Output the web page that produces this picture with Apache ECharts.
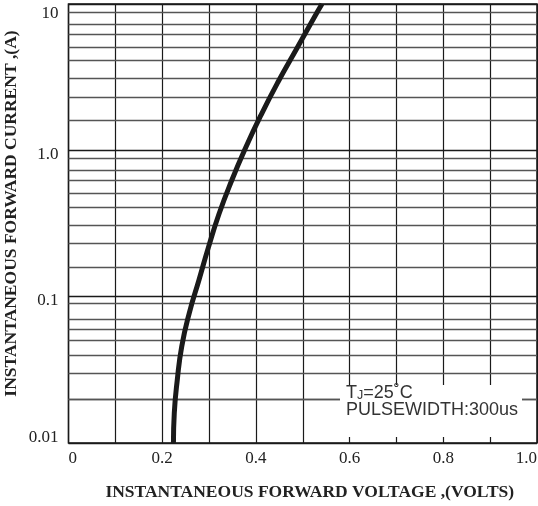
<!DOCTYPE html>
<html><head><meta charset="utf-8">
<script src="https://cdn.jsdelivr.net/npm/echarts@6/dist/echarts.min.js"></script>
<style>html,body{margin:0;padding:0;background:#fff}#c{width:538px;height:506px}</style>
</head><body><div id="c"></div>
<script>
// Data
const voltage = [0.224, 0.2258, 0.2322, 0.2416, 0.2578, 0.2785, 0.2988, 0.3212, 0.3479, 0.3778, 0.4109, 0.4472, 0.4867, 0.5262, 0.541];
const current = [0.01, 0.016, 0.027, 0.0455, 0.0773, 0.130, 0.218, 0.367, 0.617, 1.037, 1.743, 2.93, 4.93, 8.28, 10];
const xTicks = [0, 0.2, 0.4, 0.6, 0.8, 1.0];
const yTickLabels = {0.01: '0.01', 0.1: '0.1', 1: '1.0', 10: '10'};
const decades = [0.01, 0.1, 1];
const gridMantissas = [8.8, 7.3, 6.2, 5.1, 4.1, 3.1, 2.3, 1.6];

const minorLines = [];
decades.forEach(d => gridMantissas.forEach(m => minorLines.push({yAxis: +(m * d).toPrecision(3)})));

const chart = echarts.init(document.getElementById('c'), null, {renderer: 'canvas'});
chart.setOption({
  animation: false,
  backgroundColor: '#fff',
  grid: {left: 68.5, right: 1, top: 4, bottom: 63, containLabel: false, outerBoundsMode: 'none',
    show: true, borderColor: '#111', borderWidth: 1.5, backgroundColor: 'transparent'},
  xAxis: {
    type: 'value', min: 0, max: 1, interval: 0.1,
    axisLine: {show: false}, axisTick: {show: false},
    splitLine: {show: true, lineStyle: {color: '#1a1a1a', width: 1.2}},
    axisLabel: {
      margin: 7, color: '#222', fontFamily: 'Liberation Serif', fontSize: 17,
      alignMinLabel: 'left', alignMaxLabel: 'right',
      formatter: v => {
        const hit = xTicks.find(t => Math.abs(t - v) < 1e-6);
        if (hit === undefined) return '';
        return hit === 0 ? '0' : hit.toFixed(1);
      }
    },
    name: 'INSTANTANEOUS FORWARD VOLTAGE ,(VOLTS)', nameLocation: 'middle', nameGap: 40,
    nameTextStyle: {fontFamily: 'Liberation Serif', fontWeight: 'bold', fontSize: 17.5, color: '#222', padding: [0, 0, 0, 14]}
  },
  yAxis: {
    type: 'log', logBase: 10, min: 0.01, max: 10,
    axisLine: {show: false}, axisTick: {show: false},
    splitLine: {show: true, lineStyle: {color: '#1a1a1a', width: 1.3}},
    axisLabel: {
      margin: 10, color: '#222', fontFamily: 'Liberation Serif', fontSize: 17,
      formatter: v => {
        const key = +v.toPrecision(3);
        const txt = yTickLabels[key];
        if (!txt) return '';
        if (key === 10) return '{t|' + txt + '}';
        if (key === 0.01) return '{b|' + txt + '}';
        return '{m|' + txt + '}';
      },
      rich: {
        t: {fontFamily: 'Liberation Serif', fontSize: 17, color: '#222', padding: [19, 0, 0, 0]},
        m: {fontFamily: 'Liberation Serif', fontSize: 17, color: '#222', padding: [8, 0, 0, 0]},
        b: {fontFamily: 'Liberation Serif', fontSize: 17, color: '#222', padding: [0, 0, 11, 0]}
      }
    },
    name: 'INSTANTANEOUS FORWARD CURRENT ,(A)', nameLocation: 'middle', nameGap: 48, nameMoveOverlap: false,
    nameTextStyle: {fontFamily: 'Liberation Serif', fontWeight: 'bold', fontSize: 17.5, color: '#222', padding: [0, 0, 0, 20]}
  },
  series: [{
    type: 'line',
    data: voltage.map((v, i) => [v, current[i]]),
    showSymbol: false, smooth: 0.5, clip: true,
    lineStyle: {color: '#1a1a1a', width: 5},
    z: 5,
    markLine: {
      silent: true, symbol: 'none', label: {show: false},
      lineStyle: {color: '#555', width: 1.4, type: 'solid'},
      data: minorLines, z: 1, animation: false
    }
  }],
  graphic: [
    {type: 'rect', z: 10, shape: {x: 340, y: 385, width: 182, height: 52}, style: {fill: '#fff'}},
    {type: 'text', z: 11, left: 346, top: 384,
      style: {text: '{a|T}{b|J}{a|=25˚C}', rich: {a: {fontFamily: 'Liberation Sans', fontSize: 18, fill: '#333'}, b: {fontFamily: 'Liberation Sans', fontSize: 12.5, fill: '#333', verticalAlign: 'bottom', padding: [4, 0, 0, 0]}}}},
    {type: 'text', z: 11, left: 346, top: 401.5,
      style: {text: 'PULSEWIDTH:300us', fontFamily: 'Liberation Sans', fontSize: 18, fill: '#333'}}
  ]
});
</script></body></html>
